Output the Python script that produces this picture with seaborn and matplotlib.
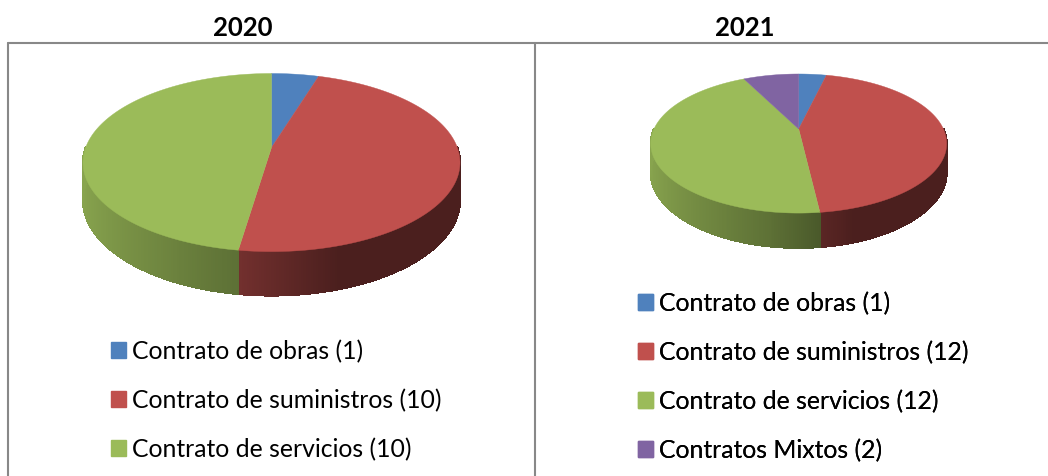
import numpy as np
import matplotlib
matplotlib.use("Agg")
import matplotlib.pyplot as plt
from matplotlib.collections import PolyCollection
from matplotlib.patches import Patch
import seaborn as sns

years = ["2020", "2021"]
labels_2020 = ["Contrato de obras", "Contrato de suministros", "Contrato de servicios"]
values_2020 = [1, 10, 10]
labels_2021 = ["Contrato de obras", "Contrato de suministros", "Contrato de servicios", "Contratos Mixtos"]
values_2021 = [1, 12, 12, 2]
colors = ["#4F81BD", "#C0504D", "#9BBB59", "#8064A2"]

sns.set_theme(style="white")
plt.rcParams["font.family"] = ["Lato", "DejaVu Sans"]


def project(theta, geom, drop=0.0):
    # theta runs clockwise from 12 o'clock, near edge of the pie is drawn bigger
    x, y = np.sin(theta), np.cos(theta)
    w = 1 + geom["k"] * y
    px = geom["cx"] + geom["a"] * x / w
    py = geom["cy"] - (geom["b"] * y - drop) / w
    return px, py


def side_shade(x):
    return np.interp(x, [-1, -0.15, 0.3, 1], [0.88, 0.60, 0.39, 0.39])


def draw_pie(ax, values, geom):
    fracs = np.cumsum([0] + list(values)) / sum(values)
    edges = fracs * 2 * np.pi
    # side wall first, only the front half shows
    for i in range(len(values)):
        start = max(edges[i], np.pi / 2)
        stop = min(edges[i + 1], 3 * np.pi / 2)
        if stop <= start:
            continue
        t = np.linspace(start, stop, int((stop - start) * 90) + 2)
        x0, y0 = project(t, geom)
        x1, y1 = project(t, geom, geom["d"])
        quads, cols = [], []
        base = np.array(matplotlib.colors.to_rgb(colors[i]))
        for j in range(len(t) - 1):
            quads.append([(x0[j], y0[j]), (x0[j + 1], y0[j + 1]), (x1[j + 1], y1[j + 1]), (x1[j], y1[j])])
            cols.append(base * side_shade(np.sin(t[j])))
        ax.add_collection(PolyCollection(quads, facecolors=cols, edgecolors=cols,
                                         linewidths=0.8, antialiaseds=False))
    # top face
    apex = (geom["cx"], geom["cy"])
    for i in range(len(values)):
        t = np.linspace(edges[i], edges[i + 1], 200)
        px, py = project(t, geom)
        ax.fill(np.r_[apex[0], px], np.r_[apex[1], py], color=colors[i], lw=0.3)


fig = plt.figure(figsize=(10.48, 4.77), dpi=100)
ax = fig.add_axes([0, 0, 1, 1])
ax.set_xlim(0, 1048)
ax.set_ylim(477, 0)
ax.axis("off")

geom_2020 = {"cx": 271.5, "cy": 148.5, "a": 185.8, "b": 86.5, "k": 0.169, "d": 36.5}
geom_2021 = {"cx": 798.7, "cy": 130, "a": 144.7, "b": 66.5, "k": 0.209, "d": 27.5}
draw_pie(ax, values_2020, geom_2020)
draw_pie(ax, values_2021, geom_2021)

# table lines
line_col = "#888888"
ax.plot([8, 1048], [44, 44], color=line_col, lw=1.5)
ax.plot([8, 8], [44, 477], color=line_col, lw=1.5)
ax.plot([535, 535], [44, 477], color=line_col, lw=1.5)

ax.text(243, 28, years[0], ha="center", va="center", fontsize=18.5, fontweight="bold", color="black")
ax.text(745, 28, years[1], ha="center", va="center", fontsize=18.5, fontweight="bold", color="black")


def add_legend(labels, values, left, top):
    handles = [Patch(color=colors[i], label=f"{labels[i]} ({values[i]})") for i in range(len(labels))]
    leg = ax.legend(handles=handles, loc="upper left", bbox_to_anchor=(left, top),
                    bbox_transform=ax.transData, frameon=False, fontsize=17.8,
                    labelspacing=1.04, borderpad=0, borderaxespad=0,
                    handlelength=0.61, handleheight=0.61, handletextpad=0.24,
                    labelcolor="black")
    ax.add_artist(leg)


add_legend(labels_2020, values_2020, 111, 340)
add_legend(labels_2021, values_2021, 638, 292)

fig.savefig("out.png", dpi=100, facecolor="white")
